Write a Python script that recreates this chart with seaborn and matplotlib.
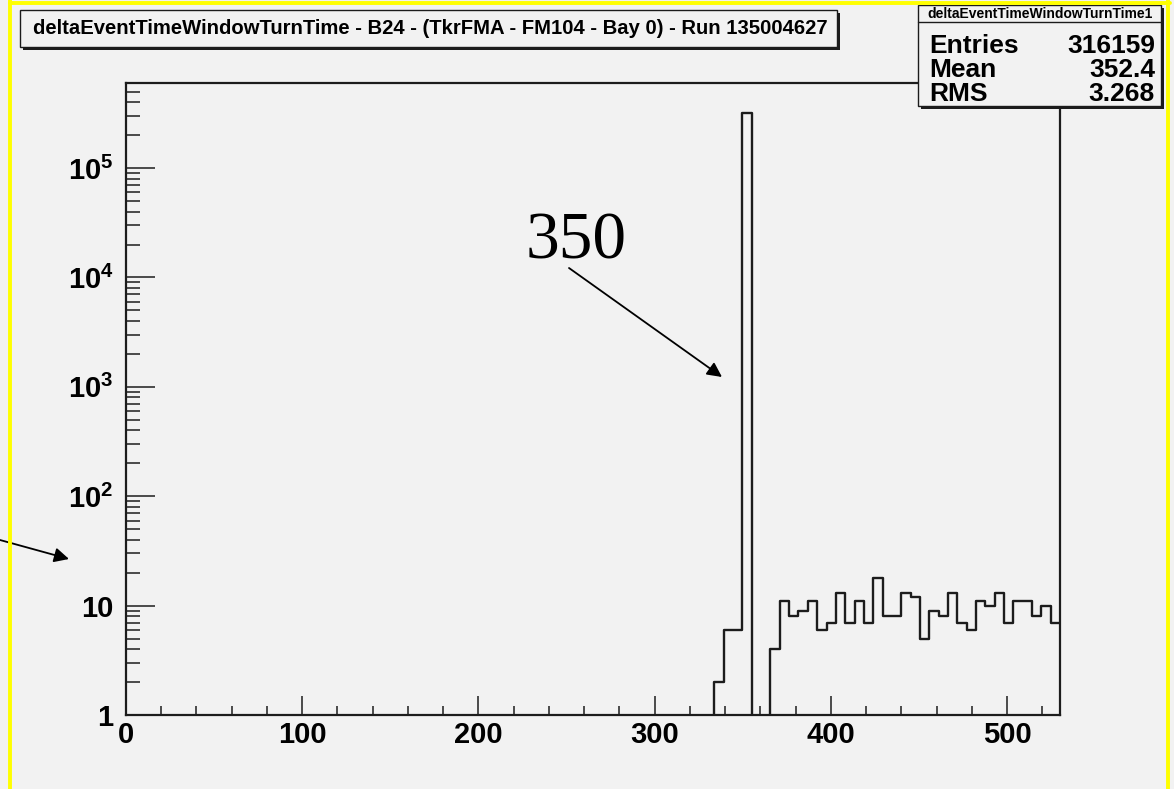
import numpy as np
import pandas as pd
import matplotlib
matplotlib.use("Agg")
import matplotlib.pyplot as plt
import seaborn as sns
from matplotlib.patches import Rectangle
from matplotlib.lines import Line2D
from matplotlib.ticker import FixedLocator, FixedFormatter, MultipleLocator, LogLocator, NullFormatter

# ---- histogram content -------------------------------------------------
x_min, x_max, n_bins = 0.0, 530.0, 100
first_filled_bin = 63
bin_counts = [2, 6, 6, 315856, 0, 0, 4,
              11, 8, 9, 11, 6, 7, 13, 7, 11, 7, 18,
              8, 8, 13, 12, 5, 9, 8, 13, 7, 6, 11, 10, 13, 7, 11, 11, 8, 10, 7]
y_max = 6.0e5

x_tick_values = [0, 100, 200, 300, 400, 500]
y_tick_values = [1, 10, 100, 1000, 10000, 100000]
y_tick_labels = ["1", "10", r"$10^{2}$", r"$10^{3}$", r"$10^{4}$", r"$10^{5}$"]

title_text = "deltaEventTimeWindowTurnTime - B24 - (TkrFMA - FM104 - Bay 0) - Run 135004627"
stats_title = "deltaEventTimeWindowTurnTime1"
stats_names = ["Entries", "Mean", "RMS"]
stats_values = ["316159", "352.4", "3.268"]
peak_label = "350"

# ---- style ---------------------------------------------------------------
sns.set_theme(style="ticks")
bg = "#f2f2f2"
plt.rcParams["font.family"] = ["Liberation Sans", "DejaVu Sans"]
plt.rcParams["font.weight"] = "bold"
plt.rcParams["mathtext.fontset"] = "custom"
plt.rcParams["mathtext.rm"] = "Liberation Sans:bold"
plt.rcParams["mathtext.bf"] = "Liberation Sans:bold"
plt.rcParams["mathtext.it"] = "Liberation Sans:bold"

W, H = 1174, 789
fig = plt.figure(figsize=(W / 100, H / 100), dpi=100, facecolor=bg)


def fp(x, y):
    """Canvas pixel (from top-left) to figure fraction."""
    return x / W, 1 - y / H


left, right, top, bottom = 126, 1060, 83, 715
ax = fig.add_axes([left / W, 1 - bottom / H, (right - left) / W, (bottom - top) / H])
ax.set_facecolor(bg)

edges = np.linspace(x_min, x_max, n_bins + 1)
counts = np.zeros(n_bins)
counts[first_filled_bin:first_filled_bin + len(bin_counts)] = bin_counts
centers = 0.5 * (edges[:-1] + edges[1:])
df = pd.DataFrame({"x": centers, "n": counts})

sns.histplot(data=df, x="x", weights="n", bins=n_bins, binrange=(x_min, x_max),
             element="step", fill=False, color="#1c1c1c", linewidth=1.7, ax=ax)
ax.set_yscale("log")
ax.set_xlim(x_min, x_max)
ax.set_ylim(1, y_max)
ax.set_xlabel("")
ax.set_ylabel("")

for s in ax.spines.values():
    s.set_visible(True)
    s.set_color("#1c1c1c")
    s.set_linewidth(1.6)

ax.xaxis.set_major_locator(FixedLocator(x_tick_values))
ax.xaxis.set_minor_locator(MultipleLocator(20))
ax.yaxis.set_major_locator(FixedLocator(y_tick_values))
ax.yaxis.set_major_formatter(FixedFormatter(y_tick_labels))
ax.yaxis.set_minor_locator(LogLocator(base=10, subs=np.arange(2, 10)))
ax.yaxis.set_minor_formatter(NullFormatter())

ax.tick_params(axis="x", which="major", direction="in", length=13.5, width=1.1,
               labelsize=21, pad=4, colors="#1c1c1c", top=False)
ax.tick_params(axis="x", which="minor", direction="in", length=6.5, width=1.1,
               top=False, colors="#1c1c1c")
ax.tick_params(axis="y", which="major", direction="in", length=21, width=1.1,
               labelsize=21, pad=9, colors="#1c1c1c", right=False)
ax.tick_params(axis="y", which="minor", direction="in", length=10, width=1.1,
               right=False, colors="#1c1c1c")
for lbl in ax.get_xticklabels() + ax.get_yticklabels():
    lbl.set_color("black")


# ---- boxes with drop shadow ---------------------------------------------
def shadow_box(x0, y0, x1, y1, shadow=3):
    sx, sy = fp(x0 + shadow, y1 + shadow)
    w = (x1 - x0) / W
    h = (y1 - y0) / H
    fig.patches.append(Rectangle((sx, sy), w, h, transform=fig.transFigure,
                                 facecolor="#1c1c1c", edgecolor="none", zorder=5))
    bx, by = fp(x0, y1)
    fig.patches.append(Rectangle((bx, by), w, h, transform=fig.transFigure,
                                 facecolor=bg, edgecolor="#1c1c1c", linewidth=1.0, zorder=6))


shadow_box(20, 10, 837, 47)
fig.text(*fp(430, 29), title_text, ha="center", va="center", fontsize=14.6,
         color="black", zorder=7)

shadow_box(918, 5, 1161, 106)
fig.lines.append(Line2D([918 / W, 1161 / W], [1 - 22 / H, 1 - 22 / H],
                        transform=fig.transFigure, color="#1c1c1c", lw=1.0, zorder=7))
fig.text(*fp(1040, 13.5), stats_title, ha="center", va="center", fontsize=10,
         color="black", zorder=7)
for i, (name, val) in enumerate(zip(stats_names, stats_values)):
    yy = 46 + i * 24
    fig.text(*fp(929, yy), name, ha="left", va="center", fontsize=19, color="black", zorder=7)
    fig.text(*fp(1155, yy), val, ha="right", va="center", fontsize=19, color="black", zorder=7)

# ---- annotations ---------------------------------------------------------
fig.text(*fp(576, 242), peak_label, ha="center", va="center", fontsize=48.5,
         family="Liberation Serif", fontweight="normal", color="black", zorder=7)
arrow_kw = dict(arrowstyle="-|>", color="black", lw=1.3, mutation_scale=22,
                shrinkA=0, shrinkB=0)
ax.annotate("", xy=fp(722, 377), xytext=fp(569, 268), xycoords="figure fraction",
            textcoords="figure fraction", arrowprops=arrow_kw, annotation_clip=False)
ax.annotate("", xy=fp(69, 559), xytext=fp(0, 540), xycoords="figure fraction",
            textcoords="figure fraction", arrowprops=arrow_kw, annotation_clip=False)

# ---- canvas frame --------------------------------------------------------
yellow = "#ffff00"
for xs, ys in [([10, 10], [0, H]), ([10, 1170], [3, 3]), ([1168, 1168], [0, H])]:
    fig.lines.append(Line2D([x / W for x in xs], [1 - y / H for y in ys],
                            transform=fig.transFigure, color=yellow, lw=2.8, zorder=8))

fig.savefig("out.png", dpi=100, facecolor=bg)
